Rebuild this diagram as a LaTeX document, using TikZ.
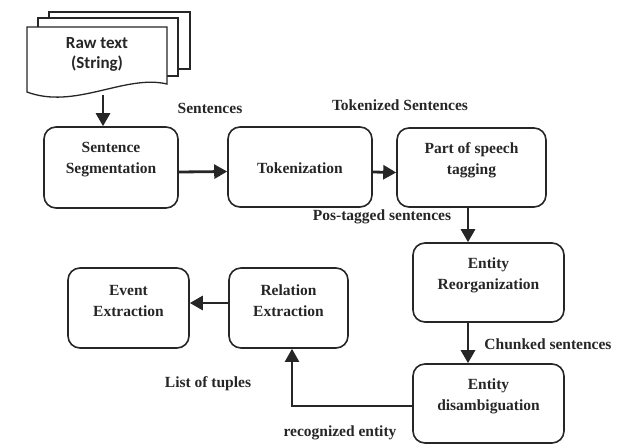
\documentclass[tikz,border=0pt]{standalone}
\usepackage{fontspec}
\setmainfont{Liberation Serif}
\newfontfamily\rawfont{Carlito}
\usetikzlibrary{arrows.meta}
\begin{document}
\begin{tikzpicture}[x=1pt,y=-1pt,
  box/.style={draw=black!85,line width=1.6pt,rounded corners=12pt,fill=white},
  btext/.style={font=\fontsize{15.5}{21}\bfseries\selectfont,align=center,text=black!85},
  lbl/.style={font=\fontsize{15.5}{19}\bfseries\selectfont,text=black!85,inner sep=0pt},
  arr/.style={draw=black!85,line width=2.8pt,-{Triangle[length=13pt,width=14pt]}},
  page/.style={draw=black!85,line width=1.3pt,fill=white}]
\useasboundingbox (0,0) rectangle (636,447);
% document stack
\draw[page] (49,69) -- (49,12) -- (190,12) -- (190,69) -- cycle;
\draw[page] (38,76) -- (38,18) -- (178,18) -- (178,76) -- cycle;
\draw[page] (27,92) -- (27,27) -- (167,27) -- (167,84)
  .. controls (125,74) and (75,110) .. (27,92) -- cycle;
\node[font=\fontsize{17}{20}\rawfont\bfseries\selectfont,align=center,text=black!85] (raw) at (97,54) {Raw text\\(String)};
\coordinate (rawb) at (103,95);
% boxes
\node[box,minimum width=134pt,minimum height=81pt] (ss) at (111,167.5) {};
\node[btext] at (111,160) {Sentence\\Segmentation};
\node[box,minimum width=144pt,minimum height=80pt] (tok) at (300,167) {};
\node[btext] at (300,168) {Tokenization};
\node[box,minimum width=149pt,minimum height=79pt] (pos) at (471.5,167.5) {};
\node[btext] at (471.5,160.5) {Part of speech\\tagging};
\node[box,minimum width=151pt,minimum height=79pt] (er) at (488.5,282.5) {};
\node[btext] at (488.5,275.5) {Entity\\Reorganization};
\node[box,minimum width=151pt,minimum height=79pt] (ed) at (488.5,403.5) {};
\node[btext] at (488.5,396.5) {Entity\\disambiguation};
\node[box,minimum width=119pt,minimum height=80pt] (re) at (288.5,308) {};
\node[btext] at (288.5,301) {Relation\\Extraction};
\node[box,minimum width=121pt,minimum height=80pt] (ee) at (128.5,308) {};
\node[btext] at (128.5,301) {Event\\Extraction};
% arrows
\coordinate (vx) at (468,0);
\coordinate (ux) at (292,0);
\draw[arr] (rawb) -- (rawb |- ss.north);
\draw[arr] ([yshift=-4.5pt]ss.east) -- ([yshift=-4.5pt]tok.west);
\draw[arr] ([yshift=-5pt]tok.east) -- ([yshift=-5pt]pos.west);
\draw[arr] (pos.south -| vx) -- (er.north -| vx);
\draw[arr] (er.south -| vx) -- (ed.north -| vx);
\draw[arr,line width=2.2pt] ([yshift=-2.5pt]ed.west) -| (re.south -| ux);
\draw[arr] ([yshift=5pt]re.west) -- ([yshift=5pt]ee.east);
% labels
\node[lbl] (l1) at (210,108) {Sentences};
\node[lbl] (l2) at (400,105) {Tokenized Sentences};
\node[lbl] (l3) at (382,217) {Pos-tagged sentences};
\node[lbl] (l4) at (548,344) {Chunked sentences};
\node[lbl] (l5) at (208,384) {List of tuples};
\node[lbl] (l6) at (340,433) {recognized entity};
\end{tikzpicture}
\end{document}
